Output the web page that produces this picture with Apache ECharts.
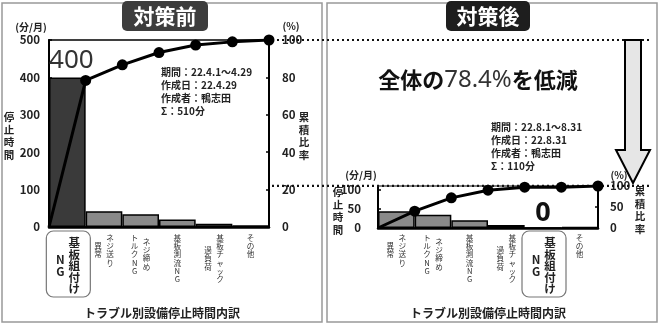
<!DOCTYPE html>
<html><head><meta charset="utf-8">
<script src="https://cdn.jsdelivr.net/npm/echarts@6/dist/echarts.min.js"></script>
<style>html,body{margin:0;padding:0;background:#fff}#c{width:662px;height:327px}</style>
</head><body><div id="c"></div>
<script>
// ---- data ----
const categoriesBefore = ['基板組付け|NG', 'ネジ送り|異常', 'ネジ締め|トルクNG', '基板測流NG', '基板チャック|過負荷', 'その他'];
const valuesBefore = [400, 42, 34, 20, 9, 5];
const cumulativeBefore = [78.4, 86.7, 93.3, 97.3, 99.0, 100];
const categoriesAfter = ['ネジ送り|異常', 'ネジ締め|トルクNG', '基板測流NG', '基板チャック|過負荷', '基板組付け|NG', 'その他'];
const valuesAfter = [44, 35, 20, 8, 0, 3];
const cumulativeAfter = [40.0, 71.8, 90.0, 97.3, 97.3, 100];
const highlightCategory = '基板組付け|NG';
const infoBefore = ['期間：22.4.1～4.29', '作成日：22.4.29', '作成者：鴨志田'];
const infoAfter = ['期間：22.8.1～8.31', '作成日：22.8.31', '作成者：鴨志田'];
const titleBefore = '対策前';
const titleAfter = '対策後';
const xTitle = 'トラブル別設備停止時間内訳';

const sumBefore = valuesBefore.reduce((a, b) => a + b, 0);
const sumAfter = valuesAfter.reduce((a, b) => a + b, 0);
const reduction = ((sumBefore - sumAfter) / sumBefore * 100).toFixed(1);

const F = '"Noto Sans CJK JP", "Noto Sans", sans-serif';
const chart = echarts.init(document.getElementById('c'));

function barData(cats, vals, hlLabel) {
  return vals.map((v, i) => {
    const hl = cats[i] === highlightCategory;
    const d = { value: v };
    if (hl) {
      if (hlLabel.dark) d.itemStyle = { color: '#3a3a3a' };
      d.label = Object.assign({ show: true, position: 'top' }, hlLabel.style);
    }
    return d;
  });
}
function lineData(cum) {
  return [[0, 0]].concat(cum.map((v, i) => [i + 1, v]));
}
const tickLbl = { fontFamily: F, fontWeight: 'bold', fontSize: 11.5, color: '#222' };
const yCommon = {
  splitLine: { show: false },
  axisLine: { show: true, lineStyle: { color: '#000', width: 2 } },
  axisTick: { show: true, inside: true, length: 3, lineStyle: { color: '#000', width: 1.5 } }
};
const xCat = {
  axisLine: { lineStyle: { color: '#000', width: 2.5 } },
  axisTick: { show: false }, axisLabel: { show: false }
};

chart.setOption({
  animation: false,
  grid: [
    { left: 49, top: 40, width: 220, height: 187, show: true, borderColor: '#000', borderWidth: 1.5 },
    { left: 378, top: 186, width: 220, height: 42, show: true, borderColor: '#000', borderWidth: 1 }
  ],
  xAxis: [
    Object.assign({ type: 'category', gridIndex: 0, data: categoriesBefore }, xCat),
    { type: 'value', gridIndex: 0, min: 0, max: 6, show: false },
    Object.assign({ type: 'category', gridIndex: 1, data: categoriesAfter }, xCat),
    { type: 'value', gridIndex: 1, min: 0, max: 6, show: false }
  ],
  yAxis: [
    Object.assign({ type: 'value', gridIndex: 0, min: 0, max: 500, interval: 100, position: 'left',
      axisLabel: Object.assign({ margin: 9 }, tickLbl) }, yCommon),
    Object.assign({ type: 'value', gridIndex: 0, min: 0, max: 100, interval: 20, position: 'right',
      axisLabel: Object.assign({ margin: 13 }, tickLbl) }, yCommon),
    Object.assign({ type: 'value', gridIndex: 1, min: 0, max: 110, interval: 50, position: 'left',
      axisLabel: Object.assign({ margin: 17, showMaxLabel: false }, tickLbl) }, yCommon),
    Object.assign({ type: 'value', gridIndex: 1, min: 0, max: 100, interval: 50, position: 'right',
      axisLabel: Object.assign({ margin: 12 }, tickLbl) }, yCommon)
  ],
  series: [
    { type: 'bar', xAxisIndex: 0, yAxisIndex: 0, barCategoryGap: '0%',
      itemStyle: { color: '#8a8a8a', borderColor: '#000', borderWidth: 1.5 },
      data: barData(categoriesBefore, valuesBefore, { dark: true,
        style: { fontFamily: '"Noto Sans", sans-serif', fontSize: 26, color: '#333', distance: 4, offset: [4, 0] } }) },
    { type: 'line', xAxisIndex: 1, yAxisIndex: 1, data: lineData(cumulativeBefore), symbol: 'circle',
      symbolSize: (v, p) => p.dataIndex === 0 ? 0 : 11, itemStyle: { color: '#000' },
      lineStyle: { color: '#000', width: 3 }, z: 5 },
    { type: 'bar', xAxisIndex: 2, yAxisIndex: 2, barCategoryGap: '0%',
      itemStyle: { color: '#8a8a8a', borderColor: '#000', borderWidth: 1.5 },
      data: barData(categoriesAfter, valuesAfter, { dark: false,
        style: { fontFamily: '"Noto Sans", sans-serif', fontWeight: 'bold', fontSize: 27, color: '#111', distance: 0 } }) },
    { type: 'line', xAxisIndex: 3, yAxisIndex: 3, data: lineData(cumulativeAfter), symbol: 'circle',
      symbolSize: (v, p) => p.dataIndex === 0 ? 0 : 11, itemStyle: { color: '#000' },
      lineStyle: { color: '#000', width: 3 }, z: 5 }
  ]
});

// ---- annotations ----
const G = [];
function txt(x, y, text, s) {
  G.push({ type: 'text', x: x, y: y, z: 20, style: Object.assign({ text: text, fontFamily: F, fill: '#222',
    align: 'center', verticalAlign: 'middle' }, s) });
}
function vtxt(x, y, text, s) { txt(x, y, text.split('').join('\n'), s); }

// panel borders
G.push({ type: 'rect', z: 1, shape: { x: 2, y: 3, width: 320, height: 319 }, style: { fill: 'none', stroke: '#999', lineWidth: 1.5 } });
G.push({ type: 'rect', z: 1, shape: { x: 327, y: 3, width: 330, height: 319 }, style: { fill: 'none', stroke: '#999', lineWidth: 1.5 } });

// dotted guide lines (left chart's 500 and 110 levels)
const yTop = chart.convertToPixel({ yAxisIndex: 0 }, 500);
const yAfterTotal = chart.convertToPixel({ yAxisIndex: 0 }, sumAfter);
[yTop, yAfterTotal].forEach(y => {
  G.push({ type: 'line', z: 3, shape: { x1: 272, y1: y, x2: 652, y2: y },
    style: { stroke: '#111', lineWidth: 2.2, lineDash: [2, 3] } });
});

// arrow
G.push({ type: 'polygon', z: 4, shape: { points: [[625, 40], [641, 40], [641, 150], [650, 150], [633, 183], [616, 150], [625, 150]] },
  style: { fill: '#e6e6e6', stroke: '#000', lineWidth: 2 } });

// title boxes
G.push({ type: 'rect', z: 10, shape: { x: 122, y: 1, width: 86, height: 30, r: 5 }, style: { fill: '#3d3d3d' } });
txt(165, 16, titleBefore, { fill: '#fff', fontSize: 21, fontWeight: 'bold' });
G.push({ type: 'rect', z: 10, shape: { x: 446, y: 1, width: 84, height: 30, r: 5 }, style: { fill: '#1e1e1e' } });
txt(488, 16, titleAfter, { fill: '#fff', fontSize: 21, fontWeight: 'bold' });

// unit labels
const unitS = { fontSize: 10, fontWeight: 'bold' };
txt(31, 27, '(分/月)', unitS);
txt(291, 26, '(%)', unitS);
txt(361, 175, '(分/月)', unitS);
txt(619, 175, '(%)', unitS);
const axNameS = { fontSize: 10.5, fontWeight: 'bold', lineHeight: 12.5 };
vtxt(9, 136, '停止時間', axNameS);
vtxt(304, 136, '累積比率', axNameS);
vtxt(338, 211, '停止時間', axNameS);
vtxt(640, 210, '累積比率', axNameS);

// info blocks
const infoS = { fontSize: 10, fontWeight: 'bold', lineHeight: 12.8, align: 'left', verticalAlign: 'top' };
txt(161, 66, infoBefore.concat(['Σ：' + sumBefore + '分']).join('\n'), infoS);
txt(491, 121, infoAfter.concat(['Σ：' + sumAfter + '分']).join('\n'), infoS);

// headline
G.push({ type: 'text', z: 20, x: 478, y: 80, style: {
  text: '{a|全体の}{b|' + reduction + '%}{a|を低減}', align: 'center', verticalAlign: 'middle',
  rich: { a: { fontFamily: F, fontWeight: 'bold', fontSize: 22, fill: '#111' },
          b: { fontFamily: '"Noto Sans", sans-serif', fontSize: 24, fill: '#333' } } } });

// x titles
txt(162, 313, xTitle, { fontSize: 12, fontWeight: 'bold' });
txt(488, 313, xTitle, { fontSize: 12, fontWeight: 'bold' });

// vertical category labels
function catLabels(xAxisIndex, cats) {
  cats.forEach((c, i) => {
    const cx = chart.convertToPixel({ xAxisIndex: xAxisIndex }, i);
    const cols = c.split('|');
    const hl = c === highlightCategory;
    const fs = hl ? 11.5 : 7.6, lh = hl ? 11.5 : 8.2, top = hl ? 237 : 234, dx = hl ? 7 : 6;
    const maxLen = Math.max.apply(null, cols.map(s => s.length));
    cols.forEach((col, k) => {
      const x = cols.length === 1 ? cx : (k === 0 ? cx + dx : cx - dx);
      const y = top + (maxLen - col.length) * lh / 2;
      txt(x, y, col.split('').join('\n'), { fontSize: fs, lineHeight: lh, fontWeight: hl ? 'bold' : 'normal',
        verticalAlign: 'top', fill: hl ? '#222' : '#333' });
    });
    if (hl) {
      G.push({ type: 'rect', z: 15, shape: { x: cx - 21, y: 231, width: 44, height: 66, r: 7 },
        style: { fill: 'none', stroke: '#777', lineWidth: 1.2 } });
    }
  });
}
catLabels(0, categoriesBefore);
catLabels(2, categoriesAfter);

chart.setOption({ graphic: G });
</script>
</body></html>
